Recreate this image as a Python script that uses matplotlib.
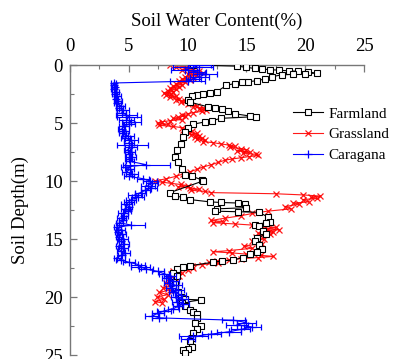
import matplotlib
matplotlib.use("Agg")
import matplotlib.pyplot as plt
from matplotlib.ticker import MultipleLocator
from matplotlib import font_manager

names = {f.name for f in font_manager.fontManager.ttflist}
serif_pref = [n for n in ['Liberation Serif', 'Times New Roman', 'Nimbus Roman', 'DejaVu Serif'] if n in names]
plt.rcParams['font.family'] = 'serif'
plt.rcParams['font.serif'] = serif_pref + ['DejaVu Serif']

# ---- data (depth in m, soil water content in %) ----
farm_depth = [0.0, 0.1, 0.2, 0.3, 0.35, 0.4, 0.45, 0.5, 0.55, 0.6, 0.7, 0.75, 0.8, 0.85, 1.0, 1.2, 1.35, 1.45,
              1.5, 1.6, 1.75, 2.3, 2.4, 2.5, 2.6, 2.7, 3.0, 3.2, 3.6, 3.7, 3.8, 4.0, 4.2, 4.4, 4.45, 4.6, 4.8,
              4.9, 5.1, 5.4, 5.8, 6.2, 6.8, 7.3, 7.9, 8.4, 9.0, 9.5, 9.6, 9.9, 10.0, 11.0, 11.3, 11.4, 11.6,
              11.8, 11.85, 11.9, 12.0, 12.3, 12.4, 12.6, 12.65, 12.7, 13.1, 13.5, 13.6, 13.75, 13.9, 14.35,
              14.6, 14.9, 15.2, 15.5, 15.9, 16.1, 16.3, 16.6, 16.8, 16.9, 17.0, 17.3, 17.4, 17.6, 17.9, 18.2,
              18.7, 18.9, 19.2, 19.6, 20.0, 20.2, 20.25, 20.5, 20.8, 21.1, 21.3, 21.5, 21.8, 22.2, 22.5, 22.8,
              23.1, 23.5, 23.8, 24.3, 24.5, 24.6, 24.8]
farm_swc = [10.5, 14.2, 15.0, 15.7, 16.3, 17.0, 17.8, 18.6, 19.4, 20.2, 21.0, 20.0, 19.0, 18.0, 17.2, 16.6, 15.9,
            15.1, 14.6, 14.0, 13.3, 12.5, 11.9, 11.3, 10.8, 10.4, 10.0, 10.2, 11.7, 12.3, 12.9, 13.4, 14.0,
            15.3, 15.8, 12.8, 12.1, 11.5, 10.5, 10.0, 9.8, 9.6, 9.4, 9.1, 8.9, 9.2, 9.5, 9.8, 10.4, 11.2, 11.3,
            8.5, 8.9, 9.6, 10.2, 11.9, 12.8, 14.3, 14.9, 15.0, 12.5, 12.3, 14.3, 16.1, 16.8, 17.0, 16.7, 15.7,
            16.1, 16.4, 16.7, 15.9, 15.7, 16.1, 16.3, 15.9, 15.3, 14.7, 13.9, 12.9, 12.2, 10.2, 9.6, 9.1, 8.8,
            9.1, 8.8, 8.9, 8.9, 9.2, 9.4, 9.8, 11.1, 9.5, 9.8, 10.2, 10.5, 10.8, 10.8, 10.6, 11.1, 10.8, 10.5,
            10.4, 10.2, 10.4, 10.0, 9.6, 9.8]

grass_depth = [0.0, 0.1, 0.2, 0.3, 0.4, 0.5, 0.6, 0.7, 0.8, 0.9, 1.0, 1.1, 1.2, 1.3, 1.4, 1.5, 1.6, 1.7, 1.8,
               1.9, 2.0, 2.1, 2.2, 2.3, 2.4, 2.5, 2.6, 2.7, 2.8, 2.9, 3.0, 3.1, 3.2, 3.3, 3.4, 3.5, 3.6, 3.7,
               3.8, 3.9, 4.0, 4.1, 4.2, 4.3, 4.4, 4.5, 4.6, 4.7, 4.8, 4.9, 5.0, 5.1, 5.2, 5.3, 5.4, 5.5, 5.6,
               5.7, 5.8, 5.9, 6.0, 6.1, 6.2, 6.3, 6.4, 6.5, 6.6, 6.7, 6.8, 6.9, 7.0, 7.1, 7.2, 7.3, 7.4, 7.5,
               7.6, 7.7, 7.8, 7.9, 8.0, 8.1, 8.2, 8.4, 8.6, 8.8, 9.0, 9.2, 9.4, 9.6, 9.8, 10.0, 10.1, 10.2,
               10.3, 10.4, 10.5, 10.6, 10.7, 10.8, 10.9, 11.0, 11.1, 11.2, 11.3, 11.4, 11.5, 11.6, 11.8, 11.9,
               12.0, 12.2, 12.4, 12.6, 12.8, 13.0, 13.2, 13.4, 13.5, 13.6, 13.7, 13.8, 13.9, 14.0, 14.1, 14.2,
               14.3, 14.4, 14.5, 14.6, 14.8, 15.0, 15.2, 15.4, 15.6, 15.8, 16.0, 16.1, 16.2, 16.3, 16.4, 16.5,
               16.6, 16.7, 16.8, 16.9, 17.0, 17.1, 17.2, 17.3, 17.4, 17.5, 17.6, 17.7, 17.8, 17.9, 18.0, 18.2,
               18.4, 18.6, 18.8, 19.0, 19.2, 19.4, 19.6, 19.8, 20.0, 20.2, 20.4, 20.5]
grass_swc = [8.5, 10.0, 9.0, 10.5, 9.5, 11.0, 10.2, 11.3, 10.0, 10.8, 9.8, 10.5, 9.5, 10.2, 9.3, 9.8, 9.0, 9.5,
             8.8, 9.3, 8.5, 9.0, 8.3, 8.8, 8.0, 8.6, 8.2, 9.0, 8.5, 9.3, 9.0, 9.8, 9.4, 10.2, 10.0, 10.8, 10.5,
             11.3, 11.0, 11.6, 11.2, 10.5, 10.0, 9.5, 9.8, 9.2, 8.8, 9.5, 8.5, 7.8, 7.5, 8.3, 7.6, 8.8, 9.5,
             10.0, 9.6, 10.4, 10.0, 10.8, 10.3, 11.0, 10.6, 11.2, 10.8, 11.5, 11.3, 12.2, 12.8, 13.5, 14.0,
             13.6, 14.5, 15.0, 14.2, 15.3, 14.7, 15.8, 16.0, 15.2, 14.5, 13.8, 13.2, 12.6, 12.0, 11.3, 10.8,
             10.2, 9.6, 9.0, 8.2, 7.2, 7.8, 8.6, 9.4, 10.0, 9.2, 10.2, 11.0, 10.3, 11.5, 12.0, 17.5, 19.8, 21.3,
             20.5, 21.0, 19.8, 20.3, 19.0, 19.5, 18.3, 18.8, 16.8, 15.5, 14.5, 13.2, 12.0, 13.0, 12.2, 14.0,
             15.5, 16.5, 17.5, 16.8, 17.8, 16.5, 17.3, 16.0, 17.0, 15.8, 16.5, 15.5, 16.3, 14.8, 15.5, 13.5,
             12.2, 13.8, 15.0, 16.2, 17.3, 16.0, 14.5, 13.5, 12.5, 11.8, 12.6, 11.2, 10.4, 9.6, 10.5, 9.2, 10.0,
             8.8, 9.5, 8.6, 9.3, 8.4, 9.0, 8.2, 8.8, 7.9, 8.5, 7.6, 8.3, 7.4, 8.0, 7.2, 7.8]

car_depth = [0.0, 0.2, 0.4, 0.6, 0.8, 1.0, 1.2, 1.4, 1.55, 1.7, 1.9, 2.1, 2.3, 2.5, 2.7, 2.9, 3.1, 3.3, 3.5,
             3.7, 3.9, 4.1, 4.3, 4.5, 4.7, 4.9, 5.1, 5.3, 5.5, 5.7, 5.9, 6.1, 6.3, 6.5, 6.7, 6.9, 7.1, 7.3,
             7.5, 7.7, 7.9, 8.1, 8.3, 8.6, 8.8, 9.0, 9.2, 9.4, 9.6, 9.8, 10.0, 10.2, 10.4, 10.6, 10.8, 11.0,
             11.2, 11.4, 11.6, 11.8, 12.0, 12.2, 12.4, 12.6, 12.8, 13.0, 13.2, 13.4, 13.6, 13.8, 14.0, 14.2,
             14.4, 14.6, 14.8, 15.0, 15.2, 15.4, 15.6, 15.8, 16.0, 16.2, 16.4, 16.6, 16.8, 17.0, 17.2, 17.4,
             17.6, 17.8, 18.0, 18.2, 18.4, 18.6, 18.8, 19.0, 19.2, 19.4, 19.6, 19.8, 20.0, 20.2, 20.4, 20.6,
             20.8, 21.0, 21.2, 21.4, 21.6, 21.8, 22.0, 22.2, 22.4, 22.6, 22.8, 23.0, 23.2, 23.4, 23.6]
car_swc = [11.0, 10.5, 9.8, 10.8, 11.5, 11.0, 10.5, 10.0, 3.7, 3.7, 3.8, 3.7, 3.9, 3.8, 4.0, 3.9, 4.1, 4.0,
           4.3, 4.2, 4.5, 4.4, 4.8, 5.0, 4.8, 5.2, 5.0, 4.6, 4.4, 4.6, 4.5, 4.9, 4.7, 5.2, 5.0, 5.3, 5.2, 4.9,
           5.1, 5.0, 5.2, 5.0, 5.1, 6.5, 4.7, 5.1, 4.8, 5.3, 5.0, 6.2, 6.8, 7.0, 6.6, 6.9, 6.4, 6.0, 5.5, 5.8,
           5.2, 5.0, 4.8, 5.0, 4.7, 4.9, 4.5, 4.6, 4.4, 4.5, 4.2, 5.2, 4.0, 4.3, 4.1, 4.4, 4.2, 4.5, 4.3, 4.6,
           4.2, 4.5, 4.3, 4.7, 4.4, 4.0, 4.3, 5.0, 5.8, 6.0, 6.5, 7.5, 8.0, 8.5, 8.2, 8.8, 8.4, 9.0, 8.6, 9.2,
           8.8, 9.4, 9.0, 9.5, 9.1, 9.6, 9.2, 8.8, 8.0, 7.5, 7.0, 7.6, 13.9, 15.0, 14.2, 15.5, 14.5, 13.5,
           12.0, 10.5, 10.0]
car_err = [1.0, 1.7, 1.2, 0.8, 1.0, 0.8, 0.6, 1.5, 0.2, 0.2, 0.2, 0.2, 0.3, 0.2, 0.3, 0.2, 0.3, 0.3, 0.4,
           0.3, 0.5, 0.4, 0.9, 1.0, 0.6, 0.8, 0.5, 0.4, 0.3, 0.4, 0.3, 0.5, 0.4, 0.6, 0.4, 1.3, 0.5, 0.3, 0.4,
           0.3, 0.4, 0.3, 0.3, 2.0, 0.4, 0.3, 0.4, 0.5, 0.4, 0.5, 0.6, 0.5, 0.6, 0.5, 0.4, 0.5, 0.6, 0.5, 0.4,
           0.4, 0.5, 0.3, 0.4, 0.3, 0.4, 0.3, 0.4, 0.3, 0.3, 1.2, 0.3, 0.4, 0.3, 0.4, 0.3, 0.4, 0.3, 0.4,
           0.3, 0.4, 0.3, 0.4, 0.3, 0.3, 0.4, 0.5, 0.6, 0.8, 0.6, 0.5, 0.4, 0.5, 0.4, 0.5, 0.4, 0.5, 0.4,
           0.5, 0.4, 0.5, 0.4, 0.5, 0.4, 0.5, 0.4, 0.5, 0.6, 0.5, 0.6, 0.6, 1.0, 0.8, 0.9, 0.7, 0.8, 1.0,
           0.8, 1.2, 0.6]

labels = ['Farmland', 'Grassland', 'Caragana']

# ---- figure ----
fig = plt.figure(figsize=(3.96, 3.59), dpi=100)
ax = fig.add_axes([70/396, 1 - 355/359, 294/396, 290/359])

h_g, = ax.plot(grass_swc, grass_depth, color='red', lw=0.8, marker='x', ms=5, mew=0.9,
               label=labels[1], zorder=2, alpha=0.9)
h_f, = ax.plot(farm_swc, farm_depth, color='black', lw=0.8, marker='s', ms=4.8, mfc='white',
               mec='black', mew=0.8, label=labels[0], zorder=3)
h_c = ax.errorbar(car_swc, car_depth, xerr=car_err, color='blue', lw=0.8, marker='+', ms=6,
                  mew=0.9, elinewidth=0.8, capsize=2.5, capthick=0.8, label=labels[2], zorder=4)

ax.set_xlim(0, 25)
ax.set_ylim(25, 0)
ax.xaxis.tick_top()
ax.xaxis.set_label_position('top')
ax.xaxis.set_major_locator(MultipleLocator(5))
ax.xaxis.set_minor_locator(MultipleLocator(2.5))
ax.yaxis.set_major_locator(MultipleLocator(5))
ax.yaxis.set_minor_locator(MultipleLocator(2.5))
for s in ['right', 'bottom']:
    ax.spines[s].set_visible(False)
for s in ['top', 'left']:
    ax.spines[s].set_color('#777777')
    ax.spines[s].set_linewidth(1.0)
ax.tick_params(which='both', direction='in', colors='#777777', labelcolor='black', labelsize=13.5)
ax.tick_params(which='major', length=5, width=0.9)
ax.tick_params(which='minor', length=3, width=0.8)
ax.tick_params(axis='x', which='both', top=True, bottom=False, pad=7)
ax.tick_params(axis='y', which='both', left=True, right=False, pad=5)

ax.set_xlabel('Soil Water Content(%)', fontsize=13.5, labelpad=9)
ax.set_ylabel('Soil Depth(m)', fontsize=13.5, labelpad=11)

ax.legend([h_f, h_g, h_c[0]], labels, loc='upper left', bbox_to_anchor=(0.758, 0.855), frameon=False,
          fontsize=11, handlelength=2.0, labelspacing=0.45, handletextpad=0.35, borderpad=0,
          borderaxespad=0)

fig.savefig('out.png', dpi=100)
